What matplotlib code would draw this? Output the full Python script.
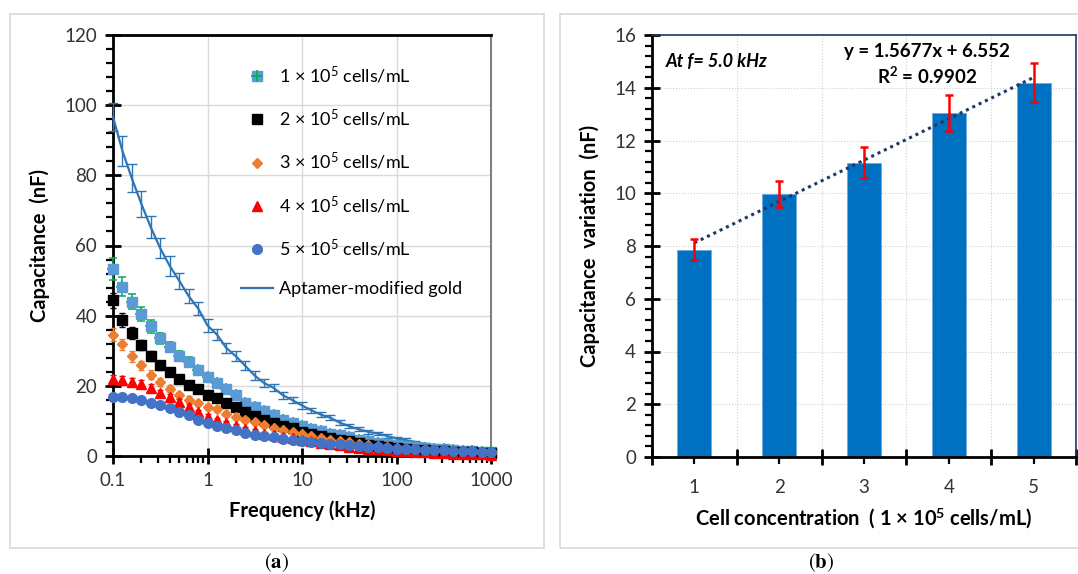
import matplotlib
matplotlib.use('Agg')
import matplotlib.pyplot as plt
from matplotlib.lines import Line2D
from matplotlib.patches import Rectangle
from matplotlib.ticker import MultipleLocator, FixedLocator, NullFormatter

plt.rcParams['font.family'] = ['Lato', 'DejaVu Sans']
plt.rcParams['mathtext.fontset'] = 'custom'
plt.rcParams['mathtext.rm'] = 'Lato'
plt.rcParams['mathtext.bf'] = 'Lato:bold'
plt.rcParams['mathtext.it'] = 'Lato:italic'

# ---- data (a) ----
freq = [0.1, 0.126, 0.158, 0.2, 0.251, 0.316, 0.398, 0.501, 0.631, 0.794,
        1, 1.26, 1.58, 2, 2.51, 3.16, 3.98, 5.01, 6.31, 7.94,
        10, 12.6, 15.8, 20, 25.1, 31.6, 39.8, 50.1, 63.1, 79.4,
        100, 126, 158, 200, 251, 316, 398, 501, 631, 794, 1000]

aptamer = [96.7, 86.9, 79.2, 71.8, 65.2, 59.2, 54.2, 50.0, 45.6, 42.1,
           37.2, 34.6, 30.8, 28.4, 25.7, 22.9, 20.8, 19.4, 17.3, 15.9,
           14.4, 13.0, 11.8, 10.9, 9.5, 8.5, 7.6, 6.9, 6.4, 5.7,
           5.0, 4.5, 4.0, 3.4, 3.0, 2.7, 2.3, 2.0, 1.7, 1.4, 1.1]
aptamer_err = [4.0, 4.2, 3.9, 3.6, 3.1, 2.9, 2.8, 2.3, 2.1, 1.9,
               1.8, 1.6, 1.5, 1.4, 1.3, 1.2, 1.1, 1.0, 1.0, 0.9,
               0.9, 0.8, 0.8, 0.7, 0.7, 0.6, 0.6, 0.6, 0.5, 0.5,
               0.5, 0.5, 0.4, 0.4, 0.4, 0.4, 0.3, 0.3, 0.3, 0.3, 0.3]

c1 = [53.3, 48.3, 44.0, 40.4, 37.0, 33.5, 31.1, 28.6, 26.8, 24.5,
      22.5, 20.7, 19.0, 17.3, 15.2, 13.9, 12.8, 11.6, 10.4, 9.5,
      8.5, 7.8, 7.1, 6.4, 5.9, 5.3, 4.7, 4.3, 3.8, 3.4,
      3.1, 2.8, 2.5, 2.3, 2.1, 1.9, 1.7, 1.5, 1.3, 1.2, 1.0]
c1_err = [3.0, 2.6, 2.2, 2.0, 1.8, 1.6, 1.5, 1.4, 1.3, 1.2,
          1.1, 1.0, 1.0, 0.9, 0.9, 0.8, 0.8, 0.7, 0.7, 0.6,
          0.6, 0.6, 0.5, 0.5, 0.5, 0.4, 0.4, 0.4, 0.4, 0.3,
          0.3, 0.3, 0.3, 0.3, 0.3, 0.2, 0.2, 0.2, 0.2, 0.2, 0.2]

c2 = [44.4, 38.7, 35.1, 31.6, 28.6, 25.8, 23.9, 22.0, 20.1, 19.0,
      17.5, 16.6, 15.0, 13.9, 12.5, 11.4, 10.4, 9.3, 8.5, 7.9,
      6.9, 6.2, 5.7, 5.1, 4.5, 4.2, 3.6, 3.2, 2.8, 2.5,
      2.2, 2.0, 1.8, 1.6, 1.5, 1.3, 1.2, 1.1, 1.0, 0.9, 0.8]
c2_err = [2.2, 2.0, 1.7, 1.5, 1.4, 1.3, 1.2, 1.1, 1.0, 1.0,
          0.9, 0.9, 0.8, 0.8, 0.7, 0.7, 0.6, 0.6, 0.5, 0.5,
          0.5, 0.4, 0.4, 0.4, 0.3, 0.3, 0.3, 0.3, 0.2, 0.2,
          0.2, 0.2, 0.2, 0.2, 0.2, 0.1, 0.1, 0.1, 0.1, 0.1, 0.1]

c3 = [34.6, 31.8, 28.4, 25.8, 23.2, 21.0, 19.1, 17.3, 16.1, 15.0,
      14.0, 13.3, 12.1, 11.2, 10.4, 9.7, 8.8, 8.1, 7.4, 6.8,
      6.2, 5.7, 5.2, 4.7, 4.3, 3.9, 3.4, 3.1, 2.8, 2.6,
      2.3, 2.1, 1.9, 1.7, 1.5, 1.4, 1.2, 1.1, 1.0, 0.9, 0.8]
c3_err = [1.8, 1.6, 1.5, 1.3, 1.2, 1.1, 1.0, 0.9, 0.9, 0.8,
          0.8, 0.7, 0.7, 0.6, 0.6, 0.5, 0.5, 0.5, 0.4, 0.4,
          0.4, 0.3, 0.3, 0.3, 0.3, 0.2, 0.2, 0.2, 0.2, 0.2,
          0.2, 0.1, 0.1, 0.1, 0.1, 0.1, 0.1, 0.1, 0.1, 0.1, 0.1]

c4 = [22.0, 21.6, 21.0, 20.6, 19.4, 18.0, 16.9, 15.4, 13.9, 12.5,
      11.2, 10.2, 9.3, 8.5, 7.8, 7.1, 6.4, 6.0, 5.5, 5.1,
      4.5, 4.2, 3.8, 3.4, 3.0, 2.7, 2.4, 2.1, 1.9, 1.6,
      1.4, 1.3, 1.1, 1.0, 0.9, 0.8, 0.7, 0.6, 0.5, 0.5, 0.4]
c4_err = [1.2, 1.1, 1.1, 1.0, 1.0, 0.9, 0.9, 0.8, 0.8, 0.7,
          0.7, 0.6, 0.6, 0.5, 0.5, 0.5, 0.4, 0.4, 0.4, 0.3,
          0.3, 0.3, 0.3, 0.2, 0.2, 0.2, 0.2, 0.2, 0.1, 0.1,
          0.1, 0.1, 0.1, 0.1, 0.1, 0.1, 0.1, 0.1, 0.1, 0.1, 0.1]

c5 = [16.8, 16.9, 16.4, 15.9, 15.2, 14.5, 13.6, 12.6, 11.7, 10.4,
      9.5, 8.5, 7.9, 7.3, 6.6, 6.1, 5.7, 5.4, 4.9, 4.6,
      4.3, 4.1, 3.8, 3.5, 3.3, 3.1, 2.8, 2.7, 2.5, 2.3,
      2.1, 2.0, 1.9, 1.8, 1.7, 1.6, 1.5, 1.4, 1.3, 1.2, 1.1]
c5_err = [0.8, 0.8, 0.8, 0.7, 0.7, 0.7, 0.6, 0.6, 0.6, 0.5,
          0.5, 0.5, 0.4, 0.4, 0.4, 0.3, 0.3, 0.3, 0.3, 0.2,
          0.2, 0.2, 0.2, 0.2, 0.2, 0.1, 0.1, 0.1, 0.1, 0.1,
          0.1, 0.1, 0.1, 0.1, 0.1, 0.1, 0.1, 0.1, 0.1, 0.1, 0.1]

legend_labels = ['1 × 10$^{5}$ cells/mL', '2 × 10$^{5}$ cells/mL', '3 × 10$^{5}$ cells/mL',
                 '4 × 10$^{5}$ cells/mL', '5 × 10$^{5}$ cells/mL', 'Aptamer-modified gold']

# ---- data (b) ----
conc = [1, 2, 3, 4, 5]
delta_c = [7.86, 9.97, 11.16, 13.04, 14.19]
delta_err = [0.40, 0.51, 0.59, 0.67, 0.73]
slope, intercept = 1.5677, 6.552

W, H = 1078, 574
tick_col = '#333333'

fig = plt.figure(figsize=(W/100, H/100), dpi=100)

# panel frames
fig.patches.append(Rectangle((10/W, 1-548/H), 534/W, 534/H, transform=fig.transFigure,
                             fill=False, ec='#d9d9d9', lw=1.2))
fig.patches.append(Rectangle((560/W, 1-548/H), 540/W, 534/H, transform=fig.transFigure,
                             fill=False, ec='#d9d9d9', lw=1.2, clip_on=False))

# ================= (a) =================
ax1 = fig.add_axes([113/W, 1-456/H, 378/W, 421/H])
ax1.set_xscale('log')
ax1.set_xlim(0.1, 1000)
ax1.set_ylim(0, 120)
ax1.grid(True, which='major', color='#d9d9d9', lw=1)
ax1.set_axisbelow(True)

ax1.errorbar(freq, aptamer, yerr=aptamer_err, color='#2E75B6', lw=1.6,
             ecolor='#2E75B6', elinewidth=1, capsize=3.5, capthick=1, clip_on=False, zorder=3)
ax1.errorbar(freq, c1, yerr=c1_err, ls='', marker='s', ms=7.5, mfc='#5B9BD5', mec='#5B9BD5',
             ecolor='#00B050', elinewidth=1.1, capsize=3, capthick=1.1, clip_on=False, zorder=4)
ax1.plot(freq, c1, ls='', marker='+', ms=8, color='#00B050', mew=1.2, clip_on=False, zorder=4)
ax1.errorbar(freq, c2, yerr=c2_err, ls='', marker='s', ms=6.5, color='black',
             elinewidth=1, capsize=2.5, clip_on=False, zorder=5)
ax1.errorbar(freq, c3, yerr=c3_err, ls='', marker='D', ms=5, color='#ED7D31',
             elinewidth=1, capsize=2.5, clip_on=False, zorder=6)
ax1.errorbar(freq, c4, yerr=c4_err, ls='', marker='^', ms=7, color='#FF0000',
             elinewidth=1, capsize=2.5, clip_on=False, zorder=7)
ax1.errorbar(freq, c5, yerr=c5_err, ls='', marker='o', ms=7, color='#4472C4',
             elinewidth=1, capsize=2.5, clip_on=False, zorder=8)

ax1.set_xticks([0.1, 1, 10, 100, 1000])
ax1.set_xticklabels(['0.1', '1', '10', '100', '1000'])
ax1.yaxis.set_major_locator(MultipleLocator(20))
ax1.yaxis.set_minor_locator(MultipleLocator(4))
ax1.tick_params(axis='both', which='major', direction='inout', length=11, width=2,
                labelsize=13.5, labelcolor=tick_col, pad=6)
ax1.tick_params(axis='both', which='minor', direction='out', length=5, width=1.6)
ax1.xaxis.set_minor_formatter(NullFormatter())
for s in ['left', 'bottom', 'top']:
    ax1.spines[s].set_linewidth(2)
    ax1.spines[s].set_color('black')
ax1.spines['right'].set_color('#808080')
ax1.spines['right'].set_linewidth(1.5)

ax1.set_xlabel('Frequency (kHz)', fontsize=14.5, fontweight='bold', labelpad=8)
ax1.set_ylabel('Capacitance  (nF)', fontsize=14.5, fontweight='bold', labelpad=10)

handles = [
    (Line2D([], [], ls='', marker='s', ms=7.5, mfc='#5B9BD5', mec='#5B9BD5'),
     Line2D([], [], ls='', marker='+', ms=8, color='#00B050', mew=1.2)),
    Line2D([], [], ls='', marker='s', ms=6.5, color='black'),
    Line2D([], [], ls='', marker='D', ms=5, color='#ED7D31'),
    Line2D([], [], ls='', marker='^', ms=7, color='#FF0000'),
    Line2D([], [], ls='', marker='o', ms=7, color='#4472C4'),
    Line2D([], [], color='#2E75B6', lw=1.6),
]
ax1.legend(handles, legend_labels, loc='upper left', bbox_to_anchor=(0.295, 0.968),
           frameon=False, fontsize=13, labelspacing=1.22, handlelength=1.8,
           handletextpad=0.3, borderpad=0.4)

# ================= (b) =================
ax2 = fig.add_axes([652/W, 1-457/H, 424/W, 422/H])
ax2.set_xlim(0.5, 5.5)
ax2.set_ylim(0, 16)
ax2.bar(conc, delta_c, width=0.4, color='#0070C0', edgecolor='#6FA8DC', lw=0.6, zorder=2)
ax2.errorbar(conc, delta_c, yerr=delta_err, ls='', ecolor='#FF0000', elinewidth=1.8,
             capsize=3, capthick=1.8, zorder=4)
fit_x = [conc[0], conc[-1]]
fit_y = [slope*x + intercept for x in fit_x]
ax2.plot(fit_x, fit_y, ls=(0, (1, 1.3)), color='#1F3864', lw=2.2, zorder=3)

ax2.yaxis.set_major_locator(MultipleLocator(2))
ax2.yaxis.set_minor_locator(MultipleLocator(0.4))
ax2.xaxis.set_major_locator(FixedLocator([0.5, 1.5, 2.5, 3.5, 4.5, 5.5]))
ax2.xaxis.set_minor_locator(FixedLocator(conc))
ax2.xaxis.set_major_formatter(NullFormatter())
ax2.set_xticks(conc, [str(c) for c in conc], minor=True)
ax2.grid(True, which='major', axis='y', color='#d0d0d0', lw=0.8, ls=':')
ax2.grid(True, which='major', axis='x', color='#d0d0d0', lw=0.8, ls=':')
ax2.set_axisbelow(True)
ax2.tick_params(axis='both', which='major', direction='inout', length=11, width=2,
                labelsize=13.5, labelcolor=tick_col, pad=6)
ax2.tick_params(axis='y', which='minor', direction='out', length=5, width=1.6)
ax2.tick_params(axis='x', which='minor', direction='out', length=5, width=1.6,
                labelsize=13.5, labelcolor=tick_col, pad=11)
for s in ['left', 'bottom']:
    ax2.spines[s].set_linewidth(2)
    ax2.spines[s].set_color('black')
for s in ['top', 'right']:
    ax2.spines[s].set_linewidth(1.2)
    ax2.spines[s].set_color('#1F3864')

ax2.set_xlabel('Cell concentration  ( 1 × 10$^{\\mathbf{5}}$ cells/mL)', fontsize=14.5,
               fontweight='bold', labelpad=8)
ax2.set_ylabel('Capacitance  variation  (nF)', fontsize=14.5, fontweight='bold', labelpad=10)

ax2.text(0.66, 15.0, 'At f= 5.0 kHz', fontsize=13, fontweight='bold', style='italic',
         ha='left', va='center')
ax2.text(3.74, 15.36, 'y = 1.5677x + 6.552', fontsize=13.5, fontweight='bold',
         ha='center', va='center')
ax2.text(3.74, 14.42, 'R$^{\\mathbf{2}}$ = 0.9902', fontsize=13.5, fontweight='bold',
         ha='center', va='center')

# captions
fig.text(277/W, 1-563/H, r'$(\mathbf{a})$', math_fontfamily='stix', fontsize=15,
         ha='center', va='center')
fig.text(821/W, 1-563/H, r'$(\mathbf{b})$', math_fontfamily='stix', fontsize=15,
         ha='center', va='center')

fig.savefig('out.png', dpi=100)
